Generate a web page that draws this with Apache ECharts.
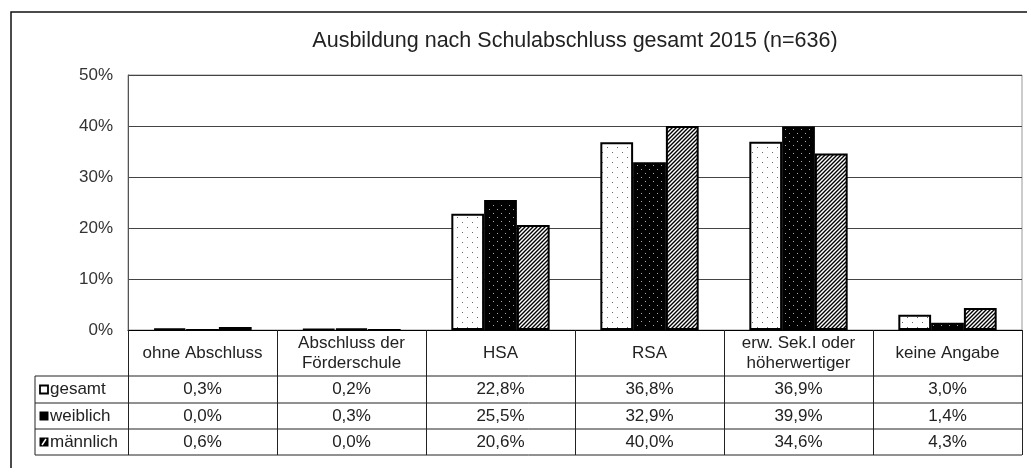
<!DOCTYPE html>
<html><head><meta charset="utf-8">
<script src="https://cdn.jsdelivr.net/npm/echarts@6/dist/echarts.min.js"></script>
<style>html,body{margin:0;padding:0;background:#fff}#c{width:1027px;height:468px}</style>
</head><body><div id="c"></div>
<script>
const titleText = 'Ausbildung nach Schulabschluss gesamt 2015 (n=636)';
const categories = ['ohne Abschluss','Abschluss der\nFörderschule','HSA','RSA','erw. Sek.I oder\nhöherwertiger','keine Angabe'];
const seriesNames = ['gesamt','weiblich','männlich'];
const gesamt = [0.3, 0.2, 22.8, 36.8, 36.9, 3.0];
const weiblich = [0.0, 0.3, 25.5, 32.9, 39.9, 1.4];
const maennlich = [0.6, 0.0, 20.6, 40.0, 34.6, 4.3];
const yMin = 0, yMax = 50, yStep = 10;

const FF = 'Liberation Sans, Arial, sans-serif';
const fmt = v => v.toFixed(1).replace('.', ',') + '%';

function pat(w, h, draw) {
  const c = document.createElement('canvas'); c.width = w; c.height = h;
  draw(c.getContext('2d'));
  return { image: c, repeat: 'repeat' };
}
const pG = pat(10, 10, x => { x.fillStyle = '#fff'; x.fillRect(0,0,10,10); x.fillStyle = '#666'; x.fillRect(2,2,1,1); x.fillRect(7,7,1,1); });
const pW = pat(8, 8, x => { x.fillStyle = '#000'; x.fillRect(0,0,8,8); x.fillStyle = '#aaa'; x.fillRect(1,1,1,1); x.fillRect(5,5,1,1); });
const pM = pat(4, 4, x => { x.fillStyle = '#fff'; x.fillRect(0,0,4,4); x.strokeStyle = '#000'; x.lineWidth = 1.4; x.beginPath();
  x.moveTo(-1,5); x.lineTo(5,-1); x.moveTo(-1,1); x.lineTo(1,-1); x.moveTo(3,5); x.lineTo(5,3); x.stroke(); });
const fills = [pG, pW, pM];
const rows = [gesamt, weiblich, maennlich];

// layout
const gL = 128, gR = 1022, gT = 75, gB = 330;
const tabL = 35, headB = 376, rowLines = [376, 403, 429, 455];
const rowCenters = [389.5, 416, 442];

const chart = echarts.init(document.getElementById('c'), null, { renderer: 'canvas' });

const xAxes = [{
  type: 'category', data: categories, position: 'bottom',
  axisLine: { lineStyle: { color: '#000', width: 1 } },
  axisTick: { show: true, interval: 0, length: rowLines[3] - gB, lineStyle: { color: '#222', width: 1 } },
  axisLabel: { interval: 0, margin: (headB - gB) / 2, verticalAlign: 'middle', fontSize: 17, lineHeight: 20, color: '#222', fontFamily: FF },
  splitLine: { show: false }
}];
rows.forEach((arr, i) => {
  xAxes.push({
    type: 'category', data: arr.map(fmt), position: 'bottom', offset: rowCenters[i] - gB,
    axisLine: { show: false }, axisTick: { show: false }, splitLine: { show: false },
    axisLabel: { interval: 0, margin: 0, verticalAlign: 'middle', fontSize: 17, color: '#222', fontFamily: FF }
  });
});

const graphic = [
  { type: 'rect', shape: { x: 11, y: 12, width: 1040, height: 480 }, style: { fill: 'none', stroke: '#111', lineWidth: 1.5 }, silent: true },
  { type: 'line', shape: { x1: tabL, y1: headB, x2: tabL, y2: rowLines[3] }, style: { stroke: '#222', lineWidth: 1 } }
];
rowLines.forEach(y => graphic.push({ type: 'line', shape: { x1: tabL, y1: y, x2: gR, y2: y }, style: { stroke: '#222', lineWidth: 1 } }));
seriesNames.forEach((n, i) => {
  const cy = rowCenters[i];
  const ix = 40, sz = 8;
  if (i === 0) graphic.push({ type: 'rect', shape: { x: ix, y: cy - sz / 2, width: sz, height: sz }, style: { fill: '#fff', stroke: '#000', lineWidth: 1.8 } });
  else graphic.push({ type: 'rect', shape: { x: ix - 0.5, y: cy - sz / 2 - 0.5, width: sz + 1, height: sz + 1 }, style: { fill: '#000' } });
  if (i === 2) graphic.push({ type: 'line', shape: { x1: ix + 2, y1: cy + 3, x2: ix + 6, y2: cy - 3 }, style: { stroke: '#fff', lineWidth: 1.5 } });
  graphic.push({ type: 'text', x: ix + sz + 2, y: cy, style: { text: n, fontSize: 17, fontFamily: FF, fill: '#222', verticalAlign: 'middle', align: 'left' } });
});

chart.setOption({
  animation: false,
  backgroundColor: '#fff',
  title: { text: titleText, left: (gL + gR) / 2 - 5, top: 36, textAlign: 'center', textVerticalAlign: 'middle',
    textStyle: { fontSize: 21.5, fontWeight: 'normal', color: '#222', fontFamily: FF } },
  grid: { left: gL, right: 1027 - gR, top: gT, bottom: 468 - gB, show: true, borderColor: '#999', borderWidth: 1 },
  xAxis: xAxes,
  yAxis: {
    type: 'value', min: yMin, max: yMax, interval: yStep,
    axisLine: { show: true, lineStyle: { color: '#555' } }, axisTick: { show: false },
    axisLabel: { formatter: '{value}%', fontSize: 17, color: '#333', margin: 15, fontFamily: FF },
    splitLine: { lineStyle: { color: '#444', width: 1 } }
  },
  series: rows.map((arr, i) => ({
    name: seriesNames[i], type: 'bar', xAxisIndex: 0, data: arr,
    barCategoryGap: '34%', barGap: '0%',
    itemStyle: { color: fills[i], borderColor: '#000', borderWidth: 2 }
  })),
  graphic: graphic
});
</script></body></html>
